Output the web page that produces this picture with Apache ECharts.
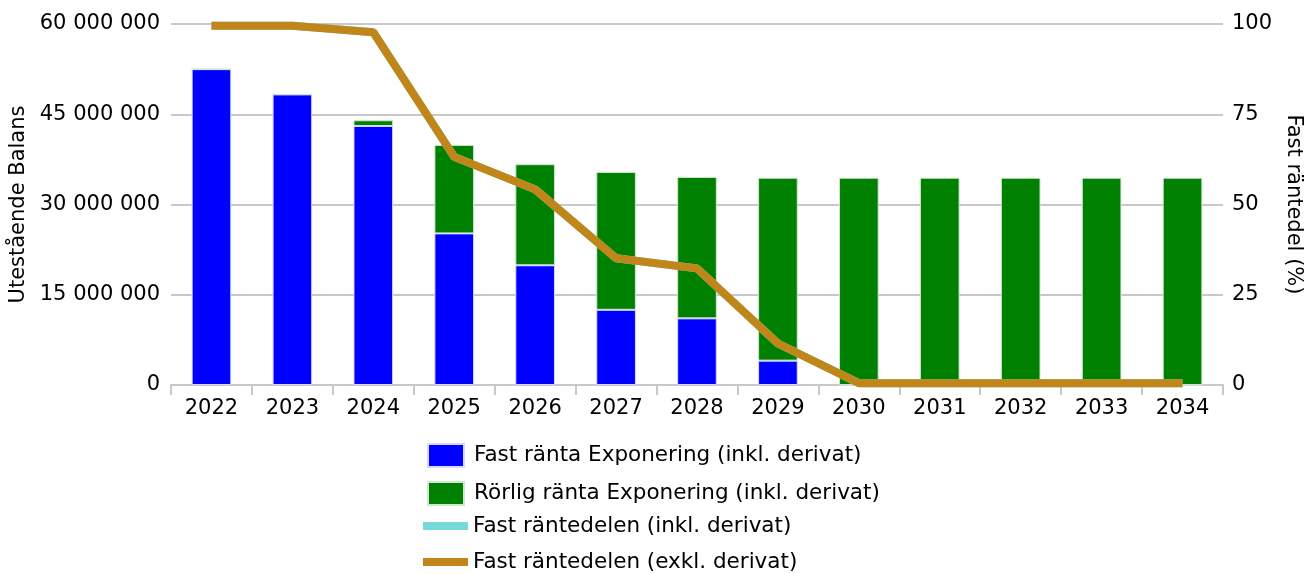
<!DOCTYPE html>
<html>
<head>
<meta charset="utf-8">
<script src="https://cdn.jsdelivr.net/npm/echarts@6/dist/echarts.min.js"></script>
<style>
  html, body { margin: 0; padding: 0; background: #fff; }
  #chart { width: 1304px; height: 574px; }
</style>
</head>
<body>
<div id="chart"></div>
<script>
// kategorier (år)
const years = ['2022', '2023', '2024', '2025', '2026', '2027', '2028', '2029', '2030', '2031', '2032', '2033', '2034']

// staplar (kr)
const fastRanta = [52500000, 48300000, 43050000, 25200000, 19900000, 12500000, 11080000, 4050000, 0, 0, 0, 0, 0]
const rorligRanta = [0, 0, 950000, 14700000, 16800000, 22900000, 23500000, 30400000, 34450000, 34450000, 34450000, 34450000, 34450000]

// linjer (%)
const fastDelInkl = [99.5, 99.5, 97.7, 63.2, 54.2, 35.1, 32.3, 11.5, 0.5, 0.5, 0.5, 0.5, 0.5]
const fastDelExkl = [99.5, 99.5, 97.7, 63.2, 54.2, 35.1, 32.3, 11.5, 0.5, 0.5, 0.5, 0.5, 0.5]

const FONT = 'DejaVu Sans'
const BLUE = '#0000ff'
const GREEN = '#008000'
const CYAN = '#76d9d9'
const GOLD = '#c0861a'

// tusentalsavgränsare med mellanslag
const fmtSpace = (v) => String(v).replace(/\B(?=(\d{3})+(?!\d))/g, ' ')

const chart = echarts.init(document.getElementById('chart'))

const legendText = { fontFamily: FONT, fontSize: 21.5, color: '#000', lineHeight: 22 }

const option = {
  animation: false,
  textStyle: { fontFamily: FONT },
  grid: { left: 171, right: 81, top: 24, height: 361, outerBoundsMode: 'none' },
  legend: [
    {
      // staplar
      orient: 'vertical',
      left: 427,
      top: 443,
      padding: 0,
      itemGap: 13,
      itemWidth: 36,
      itemHeight: 23,
      textStyle: Object.assign({}, legendText, { padding: [0, 0, 0, 5] }),
      data: [
        { name: 'Fast ränta Exponering (inkl. derivat)', icon: 'rect' },
        { name: 'Rörlig ränta Exponering (inkl. derivat)', icon: 'rect' }
      ]
    },
    {
      // linjer
      orient: 'vertical',
      left: 423,
      top: 515,
      padding: 0,
      itemGap: 14,
      itemWidth: 45,
      itemHeight: 8,
      textStyle: legendText,
      data: [
        { name: 'Fast räntedelen (inkl. derivat)', icon: 'rect', itemStyle: { color: CYAN } },
        { name: 'Fast räntedelen (exkl. derivat)', icon: 'rect', itemStyle: { color: GOLD } }
      ]
    }
  ],
  xAxis: {
    type: 'category',
    data: years,
    axisLine: { lineStyle: { color: '#c8c8c8', width: 2 } },
    axisTick: { show: true, length: 10, lineStyle: { color: '#c8c8c8', width: 2 } },
    axisLabel: { color: '#000', fontSize: 21, fontFamily: FONT, margin: 13 }
  },
  yAxis: [
    {
      type: 'value',
      min: 0,
      max: 60000000,
      interval: 15000000,
      name: 'Utestående Balans',
      nameLocation: 'middle',
      nameGap: 132,
      nameRotate: 90,
      nameTextStyle: { color: '#000', fontSize: 21, fontFamily: FONT },
      axisLine: { show: false },
      axisTick: { show: false },
      axisLabel: { color: '#000', fontSize: 21, fontFamily: FONT, margin: 11, formatter: fmtSpace },
      splitLine: { lineStyle: { color: '#c8c8c8', width: 2 } }
    },
    {
      type: 'value',
      min: 0,
      max: 100,
      interval: 25,
      name: 'Fast räntedel (%)',
      nameLocation: 'middle',
      nameGap: 55,
      nameRotate: -90,
      nameTextStyle: { color: '#000', fontSize: 21, fontFamily: FONT },
      axisLine: { show: false },
      axisTick: { show: false },
      axisLabel: { color: '#000', fontSize: 21, fontFamily: FONT, margin: 9 },
      splitLine: { show: false }
    }
  ],
  series: [
    {
      name: 'Fast ränta Exponering (inkl. derivat)',
      type: 'bar',
      stack: 'exp',
      barWidth: '49%',
      data: fastRanta,
      itemStyle: { color: BLUE, borderColor: '#d8d8ff', borderWidth: 1 }
    },
    {
      name: 'Rörlig ränta Exponering (inkl. derivat)',
      type: 'bar',
      stack: 'exp',
      barWidth: '49%',
      data: rorligRanta,
      itemStyle: { color: GREEN, borderColor: '#cfe6cf', borderWidth: 1 }
    },
    {
      name: 'Fast räntedelen (inkl. derivat)',
      type: 'line',
      yAxisIndex: 1,
      data: fastDelInkl,
      symbol: 'none',
      lineStyle: { color: CYAN, width: 8 },
      itemStyle: { color: CYAN },
      z: 3
    },
    {
      name: 'Fast räntedelen (exkl. derivat)',
      type: 'line',
      yAxisIndex: 1,
      data: fastDelExkl,
      symbol: 'none',
      lineStyle: { color: GOLD, width: 8 },
      itemStyle: { color: GOLD },
      z: 4
    }
  ]
}

chart.setOption(option)
</script>
</body>
</html>
